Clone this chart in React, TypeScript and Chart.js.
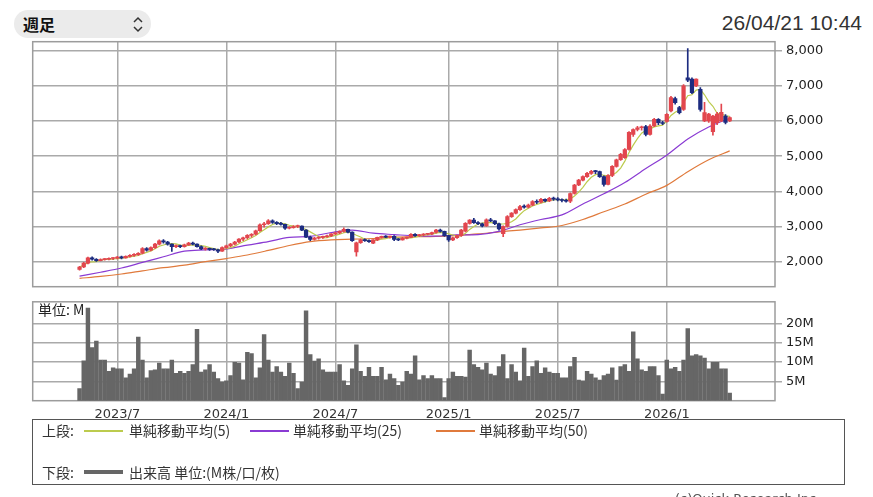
import React, { useEffect, useRef } from "react";
import { Chart, registerables } from "chart.js";

Chart.register(...registerables);

// ---- data (weekly, first candle = week of startDate) ----
const startDate = "2023-05-01";

const opens = [
  1780, 1850, 1960, 2110, 2070, 2030, 2060, 2070, 2090, 2100,
  2130, 2110, 2150, 2180, 2200, 2240, 2370, 2330, 2400, 2500,
  2590, 2560, 2500, 2430, 2450, 2430, 2480, 2530, 2500, 2430,
  2360, 2370, 2350, 2340, 2300, 2400, 2450, 2500, 2560, 2640,
  2680, 2750, 2780, 2880, 3050, 3080, 3160, 3120, 3080, 3060,
  2950, 2970, 3000, 3010, 2900, 2700, 2630, 2670, 2690, 2710,
  2730, 2790, 2820, 2860, 2920, 2840, 2280, 2540, 2620, 2600,
  2530, 2620, 2690, 2710, 2700, 2720, 2630, 2620, 2670, 2690,
  2780, 2740, 2760, 2780, 2790, 2830, 2900, 2860, 2740, 2620,
  2680, 2740, 2870, 3090, 3180, 3110, 3080, 3020, 3190, 3160,
  3080, 2800, 3000, 3280, 3380, 3480, 3570, 3550, 3610, 3710,
  3690, 3770, 3730, 3800, 3780, 3760, 3740, 3720, 3940, 4180,
  4320, 4420, 4510, 4570, 4560, 4420, 4200, 4450, 4710, 4900,
  4960, 5190, 5620, 5760, 5810, 5840, 5620, 5860, 6050, 5950,
  5990, 6290, 6640, 6380, 6330, 7230, 7190, 7000, 6900, 6000,
  6000, 5700, 5950, 6000, 6140, 6000,
];

const highs = [
  1870, 1980, 2130, 2140, 2090, 2080, 2090, 2110, 2120, 2150,
  2160, 2170, 2200, 2230, 2260, 2400, 2400, 2420, 2520, 2620,
  2630, 2580, 2510, 2480, 2470, 2500, 2550, 2560, 2510, 2450,
  2400, 2390, 2380, 2360, 2420, 2470, 2520, 2580, 2660, 2700,
  2770, 2800, 2900, 3080, 3120, 3200, 3190, 3140, 3120, 3070,
  3000, 3030, 3040, 3020, 2910, 2730, 2690, 2710, 2730, 2760,
  2800, 2840, 2880, 2960, 2930, 2850, 2560, 2640, 2650, 2620,
  2630, 2700, 2730, 2740, 2730, 2740, 2660, 2690, 2700, 2800,
  2800, 2780, 2800, 2810, 2840, 2920, 2930, 2870, 2750, 2700,
  2760, 2920, 3110, 3200, 3230, 3140, 3100, 3220, 3230, 3170,
  3100, 3020, 3310, 3400, 3500, 3600, 3620, 3640, 3740, 3760,
  3800, 3790, 3830, 3840, 3820, 3790, 3780, 3960, 4200, 4340,
  4440, 4540, 4600, 4600, 4580, 4440, 4480, 4730, 4920, 5080,
  5220, 5700, 5780, 5850, 5860, 5880, 5900, 6080, 6070, 5990,
  6210, 6700, 6680, 6420, 7040, 8060, 7230, 7200, 6950, 6530,
  6220, 6160, 6250, 6480, 6180, 6120,
];

const lows = [
  1760, 1830, 1940, 2040, 2010, 2020, 2040, 2050, 2060, 2080,
  2080, 2100, 2130, 2150, 2180, 2220, 2300, 2310, 2380, 2480,
  2530, 2470, 2290, 2400, 2400, 2410, 2460, 2480, 2410, 2340,
  2330, 2320, 2320, 2260, 2290, 2380, 2430, 2480, 2540, 2600,
  2650, 2700, 2760, 2860, 2980, 3060, 3090, 3050, 3040, 2920,
  2930, 2950, 2970, 2880, 2680, 2600, 2610, 2640, 2660, 2690,
  2710, 2770, 2800, 2840, 2820, 2580, 2160, 2520, 2580, 2550,
  2510, 2600, 2670, 2680, 2670, 2600, 2600, 2610, 2650, 2680,
  2720, 2720, 2740, 2760, 2770, 2810, 2840, 2720, 2580, 2600,
  2660, 2720, 2850, 3070, 3090, 3050, 2990, 3000, 3140, 3050,
  2900, 2710, 2980, 3260, 3360, 3460, 3520, 3530, 3590, 3650,
  3670, 3700, 3710, 3740, 3730, 3700, 3690, 3680, 3920, 4160,
  4300, 4400, 4480, 4500, 4400, 4150, 4180, 4420, 4690, 4880,
  4940, 5170, 5560, 5720, 5740, 5580, 5600, 5840, 5900, 5900,
  5970, 6260, 6480, 6200, 6300, 7120, 6780, 6980, 6280, 5980,
  5960, 5600, 5900, 5980, 5920, 5980,
];

const closes = [
  1850, 1960, 2110, 2070, 2030, 2060, 2070, 2090, 2100, 2130,
  2110, 2150, 2180, 2200, 2240, 2370, 2330, 2400, 2500, 2590,
  2560, 2500, 2430, 2450, 2430, 2480, 2530, 2500, 2430, 2360,
  2370, 2350, 2340, 2300, 2400, 2450, 2500, 2560, 2640, 2680,
  2750, 2780, 2880, 3050, 3080, 3160, 3120, 3080, 3060, 2950,
  2970, 3000, 3010, 2900, 2700, 2630, 2670, 2690, 2710, 2730,
  2790, 2820, 2860, 2920, 2840, 2600, 2540, 2620, 2600, 2570,
  2620, 2690, 2710, 2700, 2720, 2630, 2620, 2670, 2690, 2780,
  2740, 2760, 2780, 2790, 2830, 2900, 2860, 2740, 2620, 2680,
  2740, 2900, 3090, 3180, 3110, 3080, 3020, 3190, 3160, 3080,
  2930, 3000, 3280, 3380, 3480, 3570, 3550, 3610, 3710, 3690,
  3770, 3730, 3800, 3780, 3760, 3740, 3720, 3940, 4180, 4320,
  4420, 4510, 4570, 4560, 4420, 4200, 4450, 4710, 4900, 5050,
  5190, 5680, 5760, 5810, 5830, 5620, 5860, 6050, 5950, 5930,
  6190, 6670, 6520, 6240, 7000, 7160, 6810, 7190, 6330, 6240,
  6200, 6140, 6200, 6250, 5960, 6100,
];

// volume, in millions
const volumes = [
  3.1, 10.3, 23.9, 13.7, 15.4, 10.5, 10.5, 7.6, 8.5, 8.2,
  8.2, 5.9, 6.9, 8.2, 16.4, 10.5, 5.9, 7.8, 8.0, 9.7,
  8.2, 8.2, 10.5, 7.1, 7.6, 7.1, 7.6, 9.3, 18.4, 7.4,
  8.0, 9.3, 7.4, 5.7, 4.8, 5.1, 6.5, 9.9, 9.7, 5.4,
  12.5, 12.2, 5.9, 8.5, 17.1, 10.5, 7.4, 8.8, 7.4, 6.3,
  9.7, 7.1, 3.1, 4.8, 23.2, 11.9, 10.2, 10.8, 8.0, 7.4,
  7.4, 7.4, 9.3, 5.1, 4.0, 8.2, 14.4, 7.6, 6.3, 8.6,
  6.3, 6.3, 8.6, 5.4, 6.9, 5.7, 4.0, 4.8, 7.6, 6.9,
  11.6, 5.4, 6.5, 5.7, 6.5, 5.7, 5.7, 0.8, 5.7, 7.4,
  6.3, 6.3, 6.1, 13.1, 9.3, 8.6, 8.0, 9.7, 6.9, 6.5,
  8.8, 11.9, 5.7, 9.3, 7.4, 5.1, 13.6, 6.3, 8.8, 10.3,
  7.1, 8.5, 7.4, 7.1, 7.1, 5.9, 5.9, 8.8, 11.2, 5.3,
  5.1, 7.6, 6.9, 5.9, 5.3, 6.5, 6.9, 8.5, 5.3, 8.8,
  9.3, 7.6, 17.8, 10.8, 8.0, 7.6, 8.8, 8.8, 6.5, 1.7,
  10.5, 8.2, 8.6, 7.6, 10.5, 18.6, 11.6, 11.9, 11.6, 11.0,
  8.2, 9.9, 9.9, 8.2, 8.2, 2.0,
];

// moving averages (week index -> value)
const maWeeks = [0, 5, 10, 15, 20, 25, 30, 35, 40, 45, 50, 55, 60, 65, 70, 75, 80, 85, 90, 95, 100, 105, 110, 115, 120, 125, 130, 135, 140, 145, 150, 155];
const ma25 = [1590, 1700, 1820, 1980, 2140, 2300, 2335, 2360, 2470, 2570, 2690, 2720, 2830, 2900, 2810, 2770, 2735, 2730, 2760, 2770, 2860, 3050, 3200, 3330, 3640, 3930, 4250, 4650, 5030, 5490, 5830, 6080];
const ma50 = [1525, 1580, 1650, 1740, 1830, 1900, 2000, 2090, 2190, 2320, 2460, 2570, 2620, 2640, 2660, 2700, 2710, 2720, 2750, 2790, 2850, 2900, 2960, 3030, 3200, 3420, 3640, 3920, 4170, 4560, 4900, 5150];

const priceTicks = [2000, 3000, 4000, 5000, 6000, 7000, 8000];
const volumeTicks = [5, 10, 15, 20];
const tickMonths = [0, 6]; // January, July

// ---- styles ----
const UP = "#e2464e";
const DOWN = "#1d2c80";
const MA5_COLOR = "#bccb4e";
const MA25_COLOR = "#8a3bd3";
const MA50_COLOR = "#e07a3c";
const GRID = "#aaaaaa";
const X_MIN = -11.17;
const X_MAX = 165.8;
const AXIS_FONT = { family: "DejaVu Sans", size: 13 };

const framePlugin = {
  id: "frame",
  beforeDatasetsDraw(chart: any) {
    const { ctx, chartArea: a } = chart;
    ctx.save();
    ctx.strokeStyle = "#9c9c9c";
    ctx.lineWidth = 1.5;
    ctx.strokeRect(a.left, a.top, a.right - a.left, a.bottom - a.top);
    ctx.restore();
  },
};

function buildXTicks() {
  const base = new Date(startDate + "T00:00:00Z");
  const out: { value: number; label: string }[] = [];
  closes.forEach((_, i) => {
    const d = new Date(base.getTime() + i * 7 * 86400000);
    if (tickMonths.includes(d.getUTCMonth()) && d.getUTCDate() <= 7) {
      out.push({ value: i, label: `${d.getUTCFullYear()}/${d.getUTCMonth() + 1}` });
    }
  });
  return out;
}

function xScale(xTicks: { value: number; label: string }[], showLabels: boolean, height: number) {
  const labels: Record<number, string> = {};
  xTicks.forEach((t) => (labels[t.value] = t.label));
  return {
    type: "linear",
    min: X_MIN,
    max: X_MAX,
    offset: false,
    afterBuildTicks: (s: any) => {
      s.ticks = xTicks.map((t) => ({ value: t.value }));
    },
    afterFit: (s: any) => {
      s.height = height;
    },
    grid: { color: GRID, lineWidth: 1.5, drawTicks: false, offset: false },
    border: { display: false },
    ticks: {
      display: showLabels,
      autoSkip: false,
      maxRotation: 0,
      padding: 6,
      color: "#333",
      font: AXIS_FONT,
      callback: (v: number) => labels[v] ?? "",
    },
  };
}

function yScale(min: number, max: number, ticks: number[], fmt: (v: number) => string) {
  return {
    type: "linear",
    position: "right",
    min,
    max,
    afterBuildTicks: (s: any) => {
      s.ticks = ticks.map((v) => ({ value: v }));
    },
    afterFit: (s: any) => {
      s.width = 98;
    },
    grid: { color: GRID, lineWidth: 1.5, drawTicks: true, tickLength: 7, tickColor: GRID },
    border: { display: false },
    ticks: { padding: 4, color: "#222", font: AXIS_FONT, callback: (v: number) => fmt(v) },
  };
}

export default function App() {
  const priceRef = useRef<HTMLCanvasElement>(null);
  const volRef = useRef<HTMLCanvasElement>(null);

  useEffect(() => {
    const xTicks = buildXTicks();
    const ma5 = closes.map((_, i) => {
      const w = closes.slice(Math.max(0, i - 4), i + 1);
      return w.reduce((a, b) => a + b, 0) / w.length;
    });
    const candleColor = (i: number) => (closes[i] >= opens[i] ? UP : DOWN);

    const price = new Chart(priceRef.current as HTMLCanvasElement, {
      type: "bar",
      data: {
        datasets: [
          {
            type: "line",
            label: "MA50",
            data: maWeeks.map((w, i) => ({ x: w, y: ma50[i] })),
            borderColor: MA50_COLOR,
            borderWidth: 1.2,
            pointRadius: 0,
            cubicInterpolationMode: "monotone",
            order: 5,
          },
          {
            type: "line",
            label: "MA25",
            data: maWeeks.map((w, i) => ({ x: w, y: ma25[i] })),
            borderColor: MA25_COLOR,
            borderWidth: 1.2,
            pointRadius: 0,
            cubicInterpolationMode: "monotone",
            order: 4,
          },
          {
            type: "line",
            label: "MA5",
            data: ma5.map((v, i) => ({ x: i, y: v })),
            borderColor: MA5_COLOR,
            borderWidth: 1.2,
            pointRadius: 0,
            order: 3,
          },
          {
            type: "bar",
            label: "wick",
            data: highs.map((h, i) => ({ x: i, y: [lows[i], h] })),
            backgroundColor: (c: any) => candleColor(c.dataIndex),
            barThickness: 1,
            grouped: false,
            order: 2,
          },
          {
            type: "bar",
            label: "body",
            data: opens.map((o, i) => ({ x: i, y: [o, closes[i]] })),
            backgroundColor: (c: any) => candleColor(c.dataIndex),
            barThickness: 3.6,
            minBarLength: 1,
            grouped: false,
            order: 1,
          },
        ],
      } as any,
      options: {
        responsive: false,
        animation: false,
        events: [],
        layout: { padding: { left: 32.7, top: 41.7, right: 0, bottom: 13.3 } },
        plugins: { legend: { display: false }, tooltip: { enabled: false } },
        scales: {
          x: xScale(xTicks, false, 0),
          y: yScale(1289, 8256, priceTicks, (v) => Number(v).toLocaleString("en-US")),
        },
      } as any,
      plugins: [framePlugin],
    });

    const vol = new Chart(volRef.current as HTMLCanvasElement, {
      type: "bar",
      data: {
        datasets: [
          {
            label: "出来高",
            data: volumes.map((v, i) => ({ x: i, y: v })),
            backgroundColor: "#666666",
            barThickness: 3.8,
          },
        ],
      } as any,
      options: {
        responsive: false,
        animation: false,
        events: [],
        layout: { padding: { left: 32.7, top: 9.3, right: 0, bottom: 0 } },
        plugins: { legend: { display: false }, tooltip: { enabled: false } },
        scales: {
          x: xScale(xTicks, true, 24.3),
          y: yScale(0, 25.54, volumeTicks, (v) => `${v}M`),
        },
      } as any,
      plugins: [framePlugin],
    });

    return () => {
      price.destroy();
      vol.destroy();
    };
  }, []);

  const jp = '"Noto Sans CJK JP", sans-serif';
  const txt = (left: number, top: number, s: string, extra: any = {}) => (
    <div
      style={{
        position: "absolute",
        left,
        top,
        fontFamily: jp,
        fontSize: 14,
        lineHeight: "14px",
        color: "#333",
        whiteSpace: "nowrap",
        ...extra,
      }}
    >
      {s}
    </div>
  );
  const line = (left: number, top: number, color: string, h = 1.5) => (
    <div style={{ position: "absolute", left, top, width: 39, height: h, background: color }} />
  );

  return (
    <div
      style={{
        position: "absolute",
        left: 0,
        top: 0,
        width: 873,
        height: 497,
        background: "#fff",
        overflow: "hidden",
      }}
    >
      {/* selector */}
      <div
        style={{
          position: "absolute",
          left: 14,
          top: 10,
          width: 137,
          height: 28,
          borderRadius: 14,
          background: "#ebebeb",
        }}
      />
      {txt(23, 16, "週足", { fontSize: 16, lineHeight: "16px", fontWeight: 700, color: "#111" })}
      <svg style={{ position: "absolute", left: 131, top: 16 }} width={14} height={17}>
        <path d="M3 6 L7 2 L11 6" fill="none" stroke="#333" strokeWidth={1.5} />
        <path d="M3 11 L7 15 L11 11" fill="none" stroke="#333" strokeWidth={1.5} />
      </svg>
      {/* timestamp */}
      <div
        style={{
          position: "absolute",
          right: 11,
          top: 12,
          fontFamily: '"Liberation Sans", Arial, sans-serif',
          fontSize: 21,
          lineHeight: "21px",
          color: "#333",
        }}
      >
        26/04/21 10:44
      </div>

      <canvas ref={priceRef} width={873} height={300} style={{ position: "absolute", left: 0, top: 0 }} />
      <canvas ref={volRef} width={873} height={135} style={{ position: "absolute", left: 0, top: 290 }} />

      {txt(38, 302, "単位: M", { color: "#222" })}

      {/* legend box */}
      <div
        style={{
          position: "absolute",
          left: 32,
          top: 419,
          width: 813,
          height: 66,
          boxSizing: "border-box",
          border: "1.5px solid #555",
        }}
      />
      {txt(42, 423, "上段:")}
      {line(84, 430, MA5_COLOR)}
      {txt(129, 423, "単純移動平均(5)")}
      {line(250, 430, MA25_COLOR)}
      {txt(293, 423, "単純移動平均(25)")}
      {line(436, 430, MA50_COLOR)}
      {txt(479, 423, "単純移動平均(50)")}
      {txt(42, 465, "下段:")}
      {line(84, 470, "#666666", 4)}
      {txt(129, 465, "出来高 単位:(M株/口/枚)")}

      {/* footer */}
      <div
        style={{
          position: "absolute",
          left: 675,
          top: 491,
          fontFamily: "DejaVu Sans, sans-serif",
          fontSize: 13,
          lineHeight: "16px",
          color: "#555",
          whiteSpace: "nowrap",
        }}
      >
        (c)Quick Research Inc.
      </div>
    </div>
  );
}
